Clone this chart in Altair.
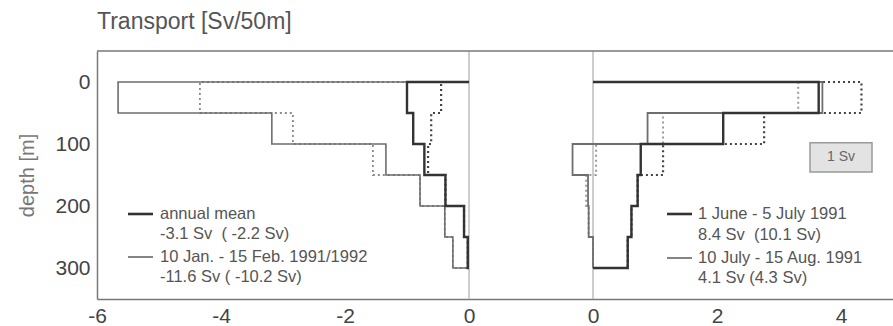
import altair as alt
import pandas as pd

# Transport per 50 m depth bin (Sv); the "_alt" series are the bracketed estimates (dotted)
depth_edges = [0, 50, 100, 150, 200, 250, 300]

annual_mean = [-1.00, -0.90, -0.72, -0.38, -0.08, -0.02]
annual_mean_alt = [-0.45, -0.61, -0.66, -0.38, -0.08, -0.02]
jan_feb = [-5.66, -3.18, -1.34, -0.79, -0.39, -0.26]
jan_feb_alt = [-4.34, -2.84, -1.55, -0.79, -0.39, -0.26]

jun_jul = [3.64, 2.10, 0.77, 0.72, 0.62, 0.56]
jun_jul_alt = [4.33, 2.76, 1.13, 0.72, 0.62, 0.56]
jul_aug = [3.70, 0.88, -0.33, -0.08, -0.07, 0.00]
jul_aug_alt = [3.31, 1.13, 0.05, -0.11, -0.07, 0.00]

x_ticks = [-6, -4, -2, 0, 2, 4, 6]
depth_ticks = [0, 100, 200, 300]

# The summer profiles are drawn on their own zero, two units right of the winter zero
SHIFT = 2
zero_lines = [0, SHIFT]

# "1 Sv" scale box, in summer-panel units
scale_box = {"x0": [3.5], "x1": [4.5], "d0": [98], "d1": [145], "label": ["1 Sv"]}

W, H = 796, 248
FONT = "Liberation Sans"
NB = "\u00a0"

xscale = alt.Scale(domain=[-6, -6 + W / 62.0], nice=False, zero=False)
yscale = alt.Scale(domain=[-50, 350], reverse=True, nice=False, zero=False)

xaxis = alt.Axis(
    values=x_ticks,
    labelExpr="datum.value > 0 ? '' + (datum.value - 2) : '' + datum.value",
    title=None, grid=False, ticks=False, labelPadding=6,
    labelFontSize=21, labelColor="#444", labelFont=FONT,
    domainColor="#777", domainWidth=1.5,
    labelOverlap=False, labelFlush=False,
)
yaxis = alt.Axis(
    values=depth_ticks, title="depth [m]", grid=False, ticks=False,
    labelPadding=7, labelFontSize=21, labelColor="#444", labelFont=FONT,
    domainColor="#777", domainWidth=1.5,
    titleFontSize=20, titleColor="#777", titleFont=FONT, titleFontWeight="normal",
    titleX=-70, titleY=124, titleAngle=270, titleAlign="center", titleBaseline="middle",
)

X = alt.X("x:Q", scale=xscale, axis=xaxis)
Y = alt.Y("depth:Q", scale=yscale, axis=yaxis)


def step_profile(values, shift):
    """Closed step outline: out along the surface, down each 50 m bin, back at 300 m."""
    pts = [(shift, depth_edges[0])]
    for i, v in enumerate(values):
        pts.append((v + shift, depth_edges[i]))
        pts.append((v + shift, depth_edges[i + 1]))
    pts.append((shift, depth_edges[-1]))
    return pd.DataFrame({"x": [p[0] for p in pts], "depth": [p[1] for p in pts],
                         "order": list(range(len(pts)))})


def profile(values, shift, color, width, dash=None):
    kw = dict(color=color, strokeWidth=width, strokeCap="butt", strokeJoin="miter")
    if dash:
        kw["strokeDash"] = dash
    return alt.Chart(step_profile(values, shift)).mark_line(**kw).encode(
        x=X, y=Y, order="order:Q")


zero = alt.Chart(pd.DataFrame({"x": zero_lines})).mark_rule(
    color="#bdbdbd", strokeWidth=1.5).encode(x=X)

top_border = alt.Chart(pd.DataFrame({"a": [0]})).mark_rule(
    color="#777", strokeWidth=1.5).encode(
    x=alt.value(0), x2=alt.value(W), y=alt.value(0))

box_df = pd.DataFrame(scale_box)
box_df["x0"] += SHIFT
box_df["x1"] += SHIFT
box_df["xc"] = (box_df["x0"] + box_df["x1"]) / 2
box_df["dc"] = (box_df["d0"] + box_df["d1"]) / 2
box = alt.Chart(box_df).mark_rect(fill="#e3e3e3", stroke="#9a9a9a", strokeWidth=1.5).encode(
    x=alt.X("x0:Q", scale=xscale, axis=xaxis), x2="x1:Q",
    y=alt.Y("d0:Q", scale=yscale, axis=yaxis), y2="d1:Q")
box_text = alt.Chart(box_df).mark_text(font=FONT, fontSize=14, color="#666").encode(
    x=alt.X("xc:Q", scale=xscale, axis=xaxis),
    y=alt.Y("dc:Q", scale=yscale, axis=yaxis), text="label:N")

# In-plot legends
legend_text = pd.DataFrame({
    "px": [63, 63, 63, 63, 601, 601, 601, 601],
    "py": [163, 182.5, 206, 226, 163, 183.5, 207, 227],
    "t": ["annual mean", f"-3.1 Sv{NB}{NB}( -2.2 Sv)",
          "10 Jan. - 15 Feb. 1991/1992", "-11.6 Sv ( -10.2 Sv)",
          "1 June - 5 July 1991", f"8.4 Sv{NB}{NB}(10.1 Sv)",
          "10 July - 15 Aug. 1991", "4.1 Sv (4.3 Sv)"],
})
legend = alt.Chart(legend_text).mark_text(
    font=FONT, fontSize=16.5, color="#555", align="left", baseline="middle").encode(
    x=alt.X("px:Q", scale=None), y=alt.Y("py:Q", scale=None), text="t:N")


def sample(x0, y, color, width):
    return alt.Chart(pd.DataFrame({"a": [0]})).mark_rule(color=color, strokeWidth=width).encode(
        x=alt.value(x0), x2=alt.value(x0 + 25), y=alt.value(y))


title = alt.Chart(pd.DataFrame({"t": ["Transport [Sv/50m]"]})).mark_text(
    font=FONT, fontSize=23, color="#555", align="left", baseline="middle").encode(
    x=alt.value(0), y=alt.value(-29), text="t:N")

layers = [
    zero,
    profile(jan_feb_alt, 0, "#8a8a8a", 1.8, [2, 3]),
    profile(annual_mean_alt, 0, "#444", 2.2, [2, 3]),
    profile(jul_aug_alt, SHIFT, "#9a9a9a", 2.0, [2, 3]),
    profile(jun_jul_alt, SHIFT, "#444", 2.2, [2, 3]),
    profile(jan_feb, 0, "#6e6e6e", 1.6),
    profile(annual_mean, 0, "#333", 2.4),
    profile(jul_aug, SHIFT, "#6e6e6e", 1.8),
    profile(jun_jul, SHIFT, "#333", 2.4),
    box, box_text,
    top_border,
    sample(31, 163, "#333", 2.6), sample(31, 206, "#666", 1.6),
    sample(570, 163, "#333", 2.6), sample(570, 207, "#666", 1.6),
    legend, title,
]

chart = alt.layer(*layers).properties(
    width=W, height=H,
    padding={"left": 97, "top": 51, "right": 0, "bottom": 27},
    autosize=alt.AutoSizeParams(type="none"),
    background="white",
).configure_view(stroke=None)

chart.save("out.html", embed_options={"renderer": "svg", "actions": False})
